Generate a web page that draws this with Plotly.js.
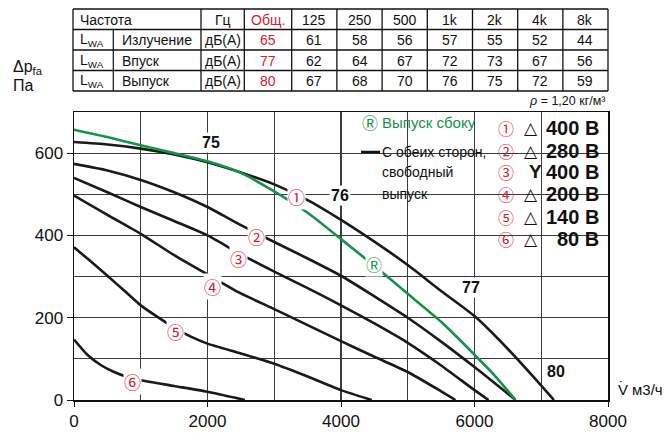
<!DOCTYPE html>
<html><head><meta charset="utf-8">
<script src="https://cdn.plot.ly/plotly-3.0.1.min.js"></script>
<style>html,body{margin:0;padding:0;background:#fff}</style>
</head><body><div id="chart" style="width:665px;height:433px"></div>
<script>
// ---------- DATA ----------
const headerFreq = ['125','250','500','1k','2k','4k','8k'];
const headerLabel = 'Частота';
const headerUnit = 'Гц';
const headerTotal = 'Общ.';
const rowNames = ['Излучение','Впуск','Выпуск'];
const rowUnit = 'дБ(А)';
const rowTotals = ['65','77','80'];
const emission = ['61','58','56','57','55','52','44'];
const intake = ['62','64','67','72','73','67','56'];
const exhaust = ['67','68','70','76','75','72','59'];

// curve 1: 400 V delta
const c1_q = [0,500,1000,1500,2000,2500,3000,3500,4000,4500,5000,5500,6000,6500,7000,7190];
const c1_p = [627,621,611,597,578,553,524,486,438,385,328,265,204,124,35,0];
// curve 2: 280 V delta
const c2_q = [0,500,1000,1500,2000,2500,3000,3500,4000,4500,5000,5500,6000,6615];
const c2_p = [574,558,535,505,469,425,384,344,302,252,200,142,80,0];
// curve 3: 400 V star
const c3_q = [0,500,1000,1500,2000,2500,3000,3500,4000,4500,5000,5500,6000,6210];
const c3_p = [540,505,469,435,400,354,312,272,230,186,139,84,24,0];
// curve 4: 200 V delta
const c4_q = [0,500,1000,1500,2000,2500,3000,3500,4000,4500,5000,5500,5715];
const c4_p = [497,450,404,352,305,259,221,182,143,105,68,21,0];
// curve 5: 140 V delta
const c5_q = [0,250,500,750,1000,1250,1500,1750,2000,2500,3000,3500,4000,4460];
const c5_p = [371,337,302,266,230,202,176,154,137,113,88,57,24,0];
// curve 6: 80 V delta
const c6_q = [0,200,400,600,800,1000,1500,2000,2560];
const c6_p = [147,110,85,68,56,48,34,20,0];
// green: side outlet
const g_q = [0,500,1000,1500,2000,2500,3000,3500,4000,4500,5000,5500,6000,6300,6615];
const g_p = [657,639,619,600,580,552,507,455,391,326,258,190,110,60,0];

const circled = ['①','②','③','④','⑤','⑥'];
const connSymbols = ['△','△','Y','△','△','△'];
const voltages = ['400 В','280 В','400 В','200 В','140 В','80 В'];
const curveLabelQ = [3330,2740,2465,2080,1515,880];
const curveLabelP = [495,397,343,277,167,44];
const levelText = ['75','76','77','80'];
const levelQ = [2050,3990,5950,7220];
const levelP = [627,497,273,70];
const sideMark = 'Ⓡ';
const sideMarkQ = 4490, sideMarkP = 331;
const legendGreen = 'Выпуск сбоку';
const legendBlack = ['С обеих сторон,','свободный','выпуск'];

// ---------- LAYOUT HELPERS ----------
const L = 74, R = 608, T = 112, B = 400;
const xp = px => (px - L) / (R - L);
const yp = py => (B - py) / (B - T);
const REG = '"Liberation Sans",Arial,sans-serif';
const SYM = '"Noto Sans CJK JP","Noto Sans CJK SC","DejaVu Sans",sans-serif';
const TRI = '"DejaVu Sans",sans-serif';
const RED = '#d8202f';
const GREEN = '#179249';
const GRID = '#3c3c3c';

const annotations = [];
const shapes = [];
function txt(text, px, py, opts) {
  annotations.push(Object.assign({
    text: text, xref: 'paper', yref: 'paper', x: xp(px), y: yp(py),
    showarrow: false, xanchor: 'center', yanchor: 'middle',
    font: {family: REG, size: 14, color: '#111'}
  }, opts || {}));
}
function line(x0, y0, x1, y1, w, c) {
  shapes.push({type: 'line', xref: 'paper', yref: 'paper',
    x0: xp(x0), y0: yp(y0), x1: xp(x1), y1: yp(y1),
    line: {color: c || '#111', width: w || 1.2}, layer: 'above'});
}

// ---------- TABLE ----------
const rowsY = [9, 29.5, 50, 70.5, 91];
const colX = [73, 113.3, 201, 244.3, 291.7, 336.9, 382.1, 427.3, 472.5, 517.7, 562.9, 608];
rowsY.forEach(y => line(73, y, 608, y, 1.3));
colX.forEach((x, i) => {
  if (i === 1) line(x, rowsY[1], x, rowsY[4], 1.2);
  else line(x, rowsY[0], x, rowsY[4], 1.3);
});
const rowC = [19.5, 40, 60.5, 81];
txt(headerLabel, 78, rowC[0], {xanchor: 'left'});
txt(headerUnit, (colX[2] + colX[3]) / 2, rowC[0]);
txt(headerTotal, (colX[3] + colX[4]) / 2, rowC[0], {font: {family: REG, size: 14, color: RED}});
headerFreq.forEach((f, i) => txt(f, (colX[4 + i] + colX[5 + i]) / 2, rowC[0]));
const bandRows = [emission, intake, exhaust];
rowNames.forEach((n, r) => {
  const y = rowC[r + 1];
  txt('L<sub>WA</sub>', 78, y, {xanchor: 'left'});
  txt(n, 120, y, {xanchor: 'left'});
  txt(rowUnit, (colX[2] + colX[3]) / 2, y);
  txt(rowTotals[r], (colX[3] + colX[4]) / 2, y, {font: {family: REG, size: 14, color: RED}});
  bandRows[r].forEach((v, i) => txt(v, (colX[4 + i] + colX[5 + i]) / 2, y));
});
txt('<i>ρ</i> = 1,20 кг/м³', 607, 101, {xanchor: 'right', font: {family: REG, size: 12.5, color: '#111'}});

// axis titles
txt('Δp<sub>fa</sub>', 11, 67, {xanchor: 'left', font: {family: REG, size: 16, color: '#111'}});
txt('Па', 11, 85, {xanchor: 'left', font: {family: REG, size: 16, color: '#111'}});
txt('V', 616, 389, {xanchor: 'left', font: {family: REG, size: 15, color: '#111'}});
txt('˙', 621, 386, {font: {family: REG, size: 15, color: '#111'}});
txt('м3/ч', 630, 389, {xanchor: 'left', font: {family: REG, size: 15, color: '#111'}});

// white boxes covering the grid behind the legends
shapes.push({type: 'rect', xref: 'paper', yref: 'paper', x0: xp(358), x1: xp(493), y0: yp(207), y1: yp(113),
  fillcolor: '#fff', line: {width: 0}, layer: 'between'});
shapes.push({type: 'rect', xref: 'paper', yref: 'paper', x0: xp(495), x1: xp(607), y0: yp(254), y1: yp(113),
  fillcolor: '#fff', line: {width: 0}, layer: 'between'});

// legend left
txt(sideMark, 370, 122, {font: {family: SYM, size: 16, color: GREEN}});
txt(legendGreen, 380, 122, {xanchor: 'left', font: {family: REG, size: 15, color: GREEN}});
line(361, 152, 380, 152, 2.5, '#111');
legendBlack.forEach((t, i) => txt(t, 380, [152, 172, 194][i], {xanchor: 'left', font: {family: REG, size: 14, color: '#111'}}));

// legend right
const legY = [128.3, 151, 171.7, 194.3, 216.7, 239.3];
circled.forEach((c, i) => {
  txt(c, 506, legY[i], {font: {family: SYM, size: 16, color: RED}});
  if (connSymbols[i] === 'Y') txt('<b>Y</b>', 535, legY[i], {font: {family: REG, size: 19, color: '#111'}});
  else txt(connSymbols[i], 531, legY[i], {font: {family: TRI, size: 17, color: '#111'}});
  txt('<b>' + voltages[i] + '</b>', 601, legY[i], {xanchor: 'right', font: {family: REG, size: 20, color: '#111'}});
});

// curve labels (data coordinates)
circled.forEach((c, i) => annotations.push({text: c, x: curveLabelQ[i], y: curveLabelP[i], xref: 'x', yref: 'y',
  showarrow: false, font: {family: SYM, size: 17, color: RED}, bgcolor: '#fff', borderpad: 0}));
annotations.push({text: sideMark, x: sideMarkQ, y: sideMarkP, xref: 'x', yref: 'y', showarrow: false,
  font: {family: SYM, size: 16, color: GREEN}, bgcolor: '#fff', borderpad: 0});
levelText.forEach((t, i) => annotations.push({text: '<b>' + t + '</b>', x: levelQ[i], y: levelP[i], xref: 'x', yref: 'y',
  showarrow: false, font: {family: REG, size: 16, color: '#111'}, bgcolor: '#fff', borderpad: 1}));

// ---------- TRACES ----------
function curve(q, p, color) {
  return {x: q, y: p, type: 'scatter', mode: 'lines', hoverinfo: 'skip',
    line: {color: color, width: 2.6, shape: 'spline', smoothing: 0.6}};
}
const data = [
  curve(c6_q, c6_p, '#1a1a1a'), curve(c5_q, c5_p, '#1a1a1a'), curve(c4_q, c4_p, '#1a1a1a'),
  curve(c3_q, c3_p, '#1a1a1a'), curve(c2_q, c2_p, '#1a1a1a'), curve(c1_q, c1_p, '#1a1a1a'),
  curve(g_q, g_p, GREEN)
];

const axisCommon = {
  showline: true, linecolor: '#111', linewidth: 1.5, mirror: true, zeroline: false,
  showgrid: true, gridcolor: GRID, gridwidth: 1.1, ticks: 'outside', tickcolor: '#111',
  tickfont: {family: REG, size: 17, color: '#111'}, fixedrange: true
};
const layout = {
  width: 665, height: 433, showlegend: false,
  margin: {l: L, r: 665 - R, t: T, b: 433 - B, pad: 0},
  paper_bgcolor: '#fff', plot_bgcolor: '#fff',
  xaxis: Object.assign({}, axisCommon, {range: [0, 8000], tick0: 0, dtick: 2000, ticklen: 5,
    minor: {dtick: 1000, showgrid: true, gridcolor: GRID, gridwidth: 1.1, ticks: ''}}),
  yaxis: Object.assign({}, axisCommon, {range: [0, 700], tick0: 0, dtick: 200, ticklen: 6,
    minor: {dtick: 100, showgrid: true, gridcolor: GRID, gridwidth: 1.1, ticks: ''}}),
  annotations: annotations, shapes: shapes
};
Plotly.newPlot('chart', data, layout, {displayModeBar: false, staticPlot: true});
</script></body></html>
